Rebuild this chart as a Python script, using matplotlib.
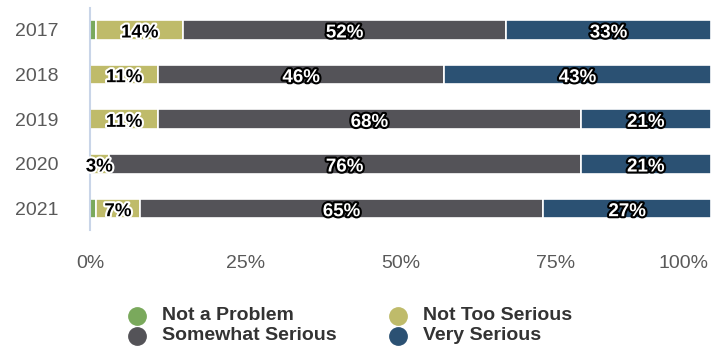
import matplotlib.pyplot as plt
import matplotlib.patheffects as pe
import matplotlib.transforms as mtransforms
from matplotlib.lines import Line2D
import numpy as np

plt.rcParams['font.family'] = ['Liberation Sans', 'DejaVu Sans']

years = ['2017', '2018', '2019', '2020', '2021']
categories = ['Not a Problem', 'Not Too Serious', 'Somewhat Serious', 'Very Serious']
not_a_problem = [1, 0, 0, 0, 1]
not_too_serious = [14, 11, 11, 3, 7]
somewhat_serious = [52, 46, 68, 76, 65]
very_serious = [33, 43, 21, 21, 27]
colors = ['#7aa95c', '#bfbb6a', '#545358', '#2b5173']

series = [not_a_problem, not_too_serious, somewhat_serious, very_serious]

W, H = 726, 350
fig = plt.figure(figsize=(W / 100, H / 100), dpi=100)
ax = fig.add_axes([90 / W, 1 - 230 / H, 621 / W, 222 / H])

y = np.arange(len(years))
left = np.zeros(len(years))
for i, (vals, col) in enumerate(zip(series, colors)):
    vals = np.array(vals, dtype=float)
    ax.barh(y, vals, left=left, height=0.44, color=col,
            edgecolor='white', linewidth=1.2)
    for yi, l, v in zip(y, left, vals):
        if v < 2:
            continue
        if i == 1:
            tc, oc = 'black', 'white'
        else:
            tc, oc = 'white', 'black'
        ax.text(l + v / 2, yi + 0.07, f'{v:.0f}%', ha='center', va='center',
                fontsize=13.5, fontweight='bold', color=tc,
                path_effects=[pe.withStroke(linewidth=3, foreground=oc)])
    left += vals

ax.set_xlim(0, 100)
ax.set_ylim(4.48, -0.49)
ax.set_yticks(y)
ax.set_yticklabels(years, fontsize=14, color='#595959')
ax.set_xticks([0, 25, 50, 75, 100])
ax.set_xticklabels(['0%', '25%', '50%', '75%', '100%'], fontsize=14, color='#595959')
ax.tick_params(axis='x', length=0, pad=18)
ax.tick_params(axis='y', length=0, pad=23)
# keep the last percent label inside the figure
last = ax.get_xticklabels()[-1]
last.set_horizontalalignment('right')
last.set_transform(last.get_transform() +
                   mtransforms.ScaledTranslation(-2 / 100, 0, fig.dpi_scale_trans))
for s in ['top', 'right', 'bottom']:
    ax.spines[s].set_visible(False)
ax.spines['left'].set_color('#c9d5e8')
ax.spines['left'].set_linewidth(1.5)

# legend drawn by hand in two columns
legend_items = [(0, 137, 316), (2, 137, 336), (1, 398, 316), (3, 398, 336)]
for k, px, py in legend_items:
    fig.add_artist(Line2D([px / W], [1 - py / H], marker='o', linestyle='',
                          markersize=12.5, markerfacecolor=colors[k],
                          markeredgecolor=colors[k], transform=fig.transFigure))
    fig.text((px + 25) / W, 1 - py / H, categories[k], ha='left', va='center',
             fontsize=14, fontweight='bold', color='#333333')

fig.savefig('out.png', dpi=100)
